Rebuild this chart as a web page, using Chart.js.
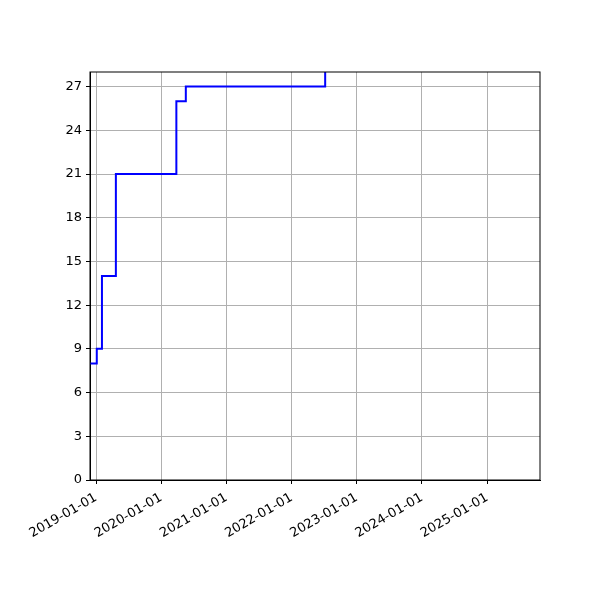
<!DOCTYPE html>
<html>
<head>
<meta charset="utf-8">
<script src="https://cdn.jsdelivr.net/npm/chart.js@4/dist/chart.umd.min.js"></script>
<style>
  html, body { margin: 0; padding: 0; background: #fff; }
  #wrap { width: 600px; height: 600px; }
</style>
</head>
<body>
<div id="wrap"><canvas id="myChart"></canvas></div>
<script>
// step dates and counts
let stepDates = ['2018-11-28', '2019-01-05', '2019-02-03', '2019-04-22', '2020-03-26', '2020-05-18', '2022-07-08'];
let stepValues = [8, 9, 14, 21, 26, 27, 30];

let xTickLabels = ['2019-01-01', '2020-01-01', '2021-01-01', '2022-01-01', '2023-01-01', '2024-01-01', '2025-01-01'];
let yTicks = [0, 3, 6, 9, 12, 15, 18, 21, 24, 27];

let xMin = Date.parse('2018-11-28');
let xMax = Date.parse('2025-10-24');

let points = stepDates.map((d, i) => ({ x: Date.parse(d), y: stepValues[i] }));

// matplotlib-like box round the plot area
let frame = {
    id: 'frame',
    afterDraw(chart) {
        let a = chart.chartArea;
        let ctx = chart.ctx;
        ctx.save();
        ctx.strokeStyle = '#000';
        ctx.lineWidth = 1;
        ctx.strokeRect(a.left, a.top, a.right - a.left, a.bottom - a.top);
        ctx.restore();
    }
};

let myChart = document.getElementById('myChart').getContext('2d');

let chart = new Chart(myChart, {
    type: 'line',
    data: {
        datasets: [
            {
                data: points,
                borderColor: '#0000ff',
                borderWidth: 2,
                pointRadius: 0,
                fill: false,
                stepped: 'before'
            }]
    },
    options: {
        responsive: true,
        maintainAspectRatio: false,
        animation: false,
        layout: { padding: { top: 72, right: 60, left: 0, bottom: 0 } },
        plugins: {
            legend: { display: false },
            tooltip: { enabled: false }
        },
        scales: {
            x: {
                type: 'linear',
                min: xMin,
                max: xMax,
                afterBuildTicks(scale) {
                    scale.ticks = xTickLabels.map(t => ({ value: Date.parse(t) }));
                },
                afterFit(scale) { scale.height = 120; },
                grid: { color: '#b0b0b0', lineWidth: 1, tickColor: '#000', tickLength: 4 },
                border: { color: '#000' },
                ticks: {
                    color: '#000',
                    font: { family: 'DejaVu Sans', size: 13 },
                    minRotation: 30,
                    maxRotation: 30,
                    autoSkip: false,
                    padding: 6,
                    callback(value) {
                        let i = xTickLabels.findIndex(t => Date.parse(t) === value);
                        return i >= 0 ? xTickLabels[i] : '';
                    }
                }
            },
            y: {
                min: 0,
                max: 28,
                afterBuildTicks(scale) {
                    scale.ticks = yTicks.map(v => ({ value: v }));
                },
                afterFit(scale) { scale.width = 90; },
                grid: { color: '#b0b0b0', lineWidth: 1, tickColor: '#000', tickLength: 4 },
                border: { color: '#000' },
                ticks: {
                    color: '#000',
                    font: { family: 'DejaVu Sans', size: 13 },
                    padding: 4
                }
            }
        }
    },
    plugins: [frame]
});
</script>
</body>
</html>
